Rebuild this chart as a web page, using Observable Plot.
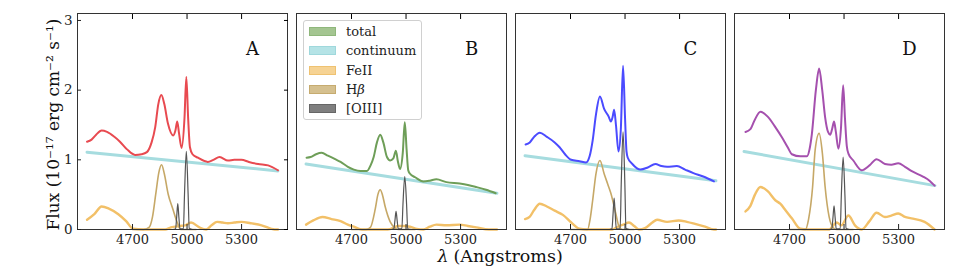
<!DOCTYPE html>
<html><head><meta charset="utf-8">
<script src="https://cdn.jsdelivr.net/npm/d3@7"></script>
<script src="https://cdn.jsdelivr.net/npm/@observablehq/plot@0.6"></script>
<style>
body{margin:0;background:#fff;}
#wrap{position:relative;width:964px;height:270px;font-family:"DejaVu Serif",serif;}
#legend{position:absolute;left:303px;top:20px;width:117px;height:98px;border:1px solid #d0d0d0;border-radius:3px;background:rgba(255,255,255,0.85);}
.li{position:absolute;left:0;height:19px;width:117px;}
.sw{position:absolute;left:5px;width:25px;height:7px;border:1px solid;}
.lt{position:absolute;left:42px;font-size:13px;line-height:15px;color:#222;}
</style></head><body><div id="wrap"></div>
<script>
const panels = ["A","B","C","D"];
const totalColors = ["#e84a50","#6e9e58","#4b4bff","#a550ae"];
const xTicks = [4700,5000,5300];
const yTicks = [0,1,2,3];
const compColors = {continuum:"#a6dcdf", FeII:"#f2c068", Hb:"#c6a867", OIII:"#555555"};

// Panel A
const totalA = [[4450,1.26],[4475,1.29],[4500,1.36],[4530,1.42],[4560,1.40],[4600,1.33],[4631,1.26],[4670,1.15],[4714,1.07],[4750,1.08],[4779,1.11],[4805,1.25],[4825,1.47],[4842,1.80],[4859,1.93],[4875,1.80],[4895,1.52],[4924,1.35],[4936,1.42],[4946,1.55],[4956,1.38],[4970,1.17],[4986,1.60],[4996,2.19],[5006,1.60],[5016,1.18],[5030,1.08],[5060,1.03],[5114,0.97],[5145,1.00],[5179,1.04],[5225,0.99],[5260,1.00],[5299,1.00],[5340,0.97],[5391,0.94],[5446,0.92],[5500,0.85]];
const contA = [[4450,1.11],[5500,0.84]];
const feA = [[4450,0.14],[4490,0.22],[4530,0.33],[4570,0.30],[4622,0.22],[4665,0.12],[4703,0.01],[4760,0],[4880,0],[4911,0.03],[4960,0.05],[4990,0.06],[5022,0.10],[5068,0.03],[5105,0],[5135,0.06],[5165,0.11],[5195,0.10],[5225,0.09],[5260,0.10],[5299,0.11],[5350,0.09],[5410,0.06],[5483,0],[5500,0]];
const hbA = [[4700,0],[4760,0],[4791,0.03],[4810,0.18],[4828,0.51],[4845,0.82],[4860,0.93],[4875,0.80],[4896,0.51],[4921,0.30],[4949,0.08],[4965,0],[5050,0]];
const oiiiA = [[4920,0],[4937,0.01],[4943,0.18],[4949,0.37],[4955,0.18],[4961,0.01],[4980,0.01],[4986,0.50],[4996,1.12],[5006,0.50],[5012,0.02],[5030,0]];

// Panel B
const totalB = [[4453,1.03],[4475,1.04],[4505,1.08],[4536,1.10],[4570,1.06],[4610,1.01],[4640,0.97],[4680,0.90],[4713,0.86],[4750,0.84],[4785,0.84],[4805,0.92],[4822,1.04],[4840,1.25],[4858,1.36],[4875,1.25],[4895,1.04],[4913,0.99],[4930,1.02],[4944,1.13],[4955,0.98],[4967,0.87],[4982,1.10],[4993,1.54],[5003,1.15],[5012,0.85],[5022,0.80],[5050,0.75],[5095,0.69],[5130,0.70],[5167,0.72],[5222,0.68],[5295,0.66],[5340,0.64],[5386,0.61],[5440,0.57],[5493,0.52]];
const contB = [[4450,0.94],[5500,0.52]];
const feB = [[4450,0.07],[4490,0.13],[4540,0.18],[4590,0.15],[4640,0.12],[4680,0.07],[4713,0.04],[4758,0],[4900,0],[4958,0.05],[4985,0.05],[5022,0.04],[5060,0.01],[5095,0],[5130,0.04],[5167,0.07],[5222,0.06],[5295,0.07],[5340,0.05],[5386,0.03],[5456,0],[5500,0]];
const hbB = [[4700,0],[4780,0],[4804,0.03],[4831,0.30],[4845,0.50],[4858,0.57],[4870,0.50],[4885,0.33],[4913,0.11],[4940,0.02],[4960,0],[5050,0]];
const oiiiB = [[4920,0],[4933,0.01],[4939,0.13],[4945,0.26],[4951,0.13],[4957,0.01],[4977,0.01],[4983,0.36],[4993,0.76],[5003,0.36],[5009,0.01],[5030,0]];

// Panel C
const totalC = [[4453,1.22],[4476,1.25],[4500,1.33],[4531,1.39],[4570,1.33],[4613,1.25],[4640,1.18],[4670,1.08],[4704,1.00],[4750,0.98],[4785,0.96],[4805,1.05],[4822,1.28],[4840,1.65],[4862,1.91],[4885,1.73],[4910,1.62],[4922,1.55],[4932,1.62],[4940,1.72],[4950,1.50],[4964,1.12],[4977,1.45],[4989,2.35],[5000,1.60],[5008,1.12],[5015,1.03],[5040,0.94],[5085,0.86],[5125,0.89],[5167,0.94],[5200,0.91],[5231,0.90],[5285,0.91],[5330,0.86],[5376,0.81],[5430,0.76],[5489,0.69]];
const contC = [[4450,1.06],[5500,0.70]];
const feC = [[4450,0.15],[4475,0.18],[4500,0.28],[4531,0.37],[4570,0.33],[4613,0.27],[4658,0.21],[4704,0.10],[4749,0.01],[4790,0],[4930,0],[4967,0.05],[4990,0.07],[5022,0.10],[5050,0.05],[5076,0],[5110,0.02],[5150,0.10],[5176,0.14],[5231,0.11],[5295,0.13],[5340,0.11],[5385,0.08],[5440,0.04],[5489,0],[5500,0]];
const hbC = [[4700,0],[4794,0],[4808,0.15],[4822,0.42],[4840,0.80],[4862,0.99],[4885,0.80],[4905,0.65],[4922,0.52],[4949,0.23],[4967,0.04],[4985,0],[5050,0]];
const oiiiC = [[4915,0],[4928,0.01],[4934,0.22],[4940,0.45],[4946,0.22],[4952,0.01],[4973,0.01],[4979,0.65],[4989,1.40],[4999,0.65],[5005,0.02],[5025,0]];

// Panel D
const totalD = [[4458,1.40],[4485,1.44],[4510,1.58],[4540,1.69],[4580,1.62],[4622,1.47],[4659,1.32],[4690,1.18],[4713,1.08],[4760,1.05],[4796,1.05],[4810,1.15],[4823,1.37],[4845,2.00],[4863,2.31],[4880,2.00],[4896,1.61],[4912,1.40],[4924,1.36],[4935,1.45],[4945,1.55],[4955,1.40],[4969,1.16],[4983,1.45],[4995,2.07],[5005,1.60],[5015,1.20],[5024,1.09],[5051,0.99],[5097,0.85],[5140,0.92],[5179,1.01],[5225,0.94],[5260,0.93],[5298,0.95],[5335,0.90],[5370,0.84],[5434,0.76],[5470,0.70],[5498,0.63]];
const contD = [[4450,1.12],[5500,0.63]];
const feD = [[4458,0.26],[4485,0.34],[4510,0.50],[4540,0.61],[4580,0.55],[4622,0.42],[4649,0.37],[4680,0.27],[4713,0.16],[4759,0.01],[4800,0],[4920,0],[4935,0.04],[4960,0.10],[4985,0.06],[5024,0.20],[5060,0.06],[5097,0],[5140,0.12],[5179,0.24],[5225,0.18],[5260,0.20],[5298,0.23],[5335,0.18],[5370,0.16],[5443,0.11],[5498,0]];
const hbD = [[4700,0],[4787,0],[4805,0.15],[4827,0.61],[4841,1.14],[4863,1.38],[4881,1.09],[4896,0.61],[4918,0.18],[4942,0.02],[4960,0],[5050,0]];
const oiiiD = [[4920,0],[4933,0.01],[4939,0.17],[4945,0.34],[4951,0.17],[4957,0.01],[4979,0.01],[4985,0.48],[4995,1.04],[5005,0.48],[5011,0.02],[5030,0]];

const legendNames = ["total","continuum","FeII","H<i>β</i>","[OIII]"];
const legendFill = ["#a4c591","#b5e3e6","#f6d394","#d5c08f","#7f7f7f"];
const legendStroke = ["#8fb77b","#9fd8dc","#efc271","#c6ab6f","#666666"];

const yLabel = "Flux (10⁻¹⁷ erg cm⁻² s⁻¹)";

const sets = {
  A: {total: totalA, continuum: contA, FeII: feA, Hb: hbA, OIII: oiiiA},
  B: {total: totalB, continuum: contB, FeII: feB, Hb: hbB, OIII: oiiiB},
  C: {total: totalC, continuum: contC, FeII: feC, Hb: hbC, OIII: oiiiC},
  D: {total: totalD, continuum: contD, FeII: feD, Hb: hbD, OIII: oiiiD}
};
const rows = [];
for (const p of panels) for (const [comp, arr] of Object.entries(sets[p])) for (const [lam, flux] of arr) rows.push({panel: p, comp, lam, flux});

const compLine = (comp, stroke, sw) => Plot.line(rows.filter(d => d.comp === comp), {x: "lam", y: "flux", fx: "panel", stroke, strokeWidth: sw, curve: "monotone-x"});

const marks = [
  compLine("continuum", compColors.continuum, 3),
  compLine("FeII", compColors.FeII, 2.4),
  compLine("Hb", compColors.Hb, 1.6),
  compLine("OIII", compColors.OIII, 1.2),
  ...panels.map((p, i) => Plot.line(rows.filter(d => d.comp === "total" && d.panel === p), {x: "lam", y: "flux", fx: "panel", stroke: totalColors[i], strokeWidth: 2, curve: "monotone-x"})),
  Plot.frame({stroke: "#333"}),
  Plot.axisX({anchor: "bottom", ticks: xTicks, tickSize: -5, tickPadding: 10, tickFormat: d => String(d), label: null, fontSize: 13, color: "#222"}),
  Plot.axisX({anchor: "top", ticks: xTicks, tickSize: -5, tickFormat: () => "", label: null}),
  Plot.axisY({anchor: "left", ticks: yTicks, tickSize: -4, tickPadding: 9, tickFormat: d => String(d), label: null, fontSize: 13.5, color: "#222"}),
  Plot.axisY({anchor: "right", facetAnchor: "left", ticks: yTicks, tickSize: -4, tickFormat: () => "", label: null}),
  Plot.text(panels, {fx: d => d, text: d => d, frameAnchor: "top-right", dx: -35, dy: 36, textAnchor: "middle", lineAnchor: "middle", fontSize: 18, fill: "#111"}),
  Plot.text(["λ"], {facet: "super", frameAnchor: "bottom-left", text: d => d, dx: 371, dy: 20, textAnchor: "end", lineAnchor: "top", fontStyle: "italic", fontSize: 17.5, fill: "#111"}),
  Plot.text(["(Angstroms)"], {facet: "super", frameAnchor: "bottom-left", text: d => d, dx: 376, dy: 20, textAnchor: "start", lineAnchor: "top", fontSize: 17.5, fill: "#111"}),
  Plot.text([yLabel], {facet: "super", frameAnchor: "left", text: d => d, dx: -24, dy: 3, rotate: -90, textAnchor: "middle", lineAnchor: "middle", fontSize: 17, fill: "#111"})
];

const chart = Plot.plot({
  width: 964, height: 270,
  marginLeft: 77, marginRight: 20, marginTop: 13, marginBottom: 41,
  style: {fontFamily: "DejaVu Serif", fontSize: "13px", background: "#fff"},
  x: {domain: [4397.5, 5552.5]},
  y: {domain: [0, 3.1]},
  fx: {domain: panels, paddingInner: 0.0411, paddingOuter: 0, round: false, axis: null, label: null},
  marks
});
const wrap = document.getElementById("wrap");
wrap.appendChild(chart);

const legend = document.createElement("div");
legend.id = "legend";
legendNames.forEach((name, i) => {
  const it = document.createElement("div");
  it.className = "li";
  it.style.top = (2 + i * 19.3) + "px";
  it.innerHTML = `<div class="sw" style="top:4px;background:${legendFill[i]};border-color:${legendStroke[i]}"></div><div class="lt" style="top:1px">${name}</div>`;
  legend.appendChild(it);
});
wrap.appendChild(legend);
</script></body></html>
